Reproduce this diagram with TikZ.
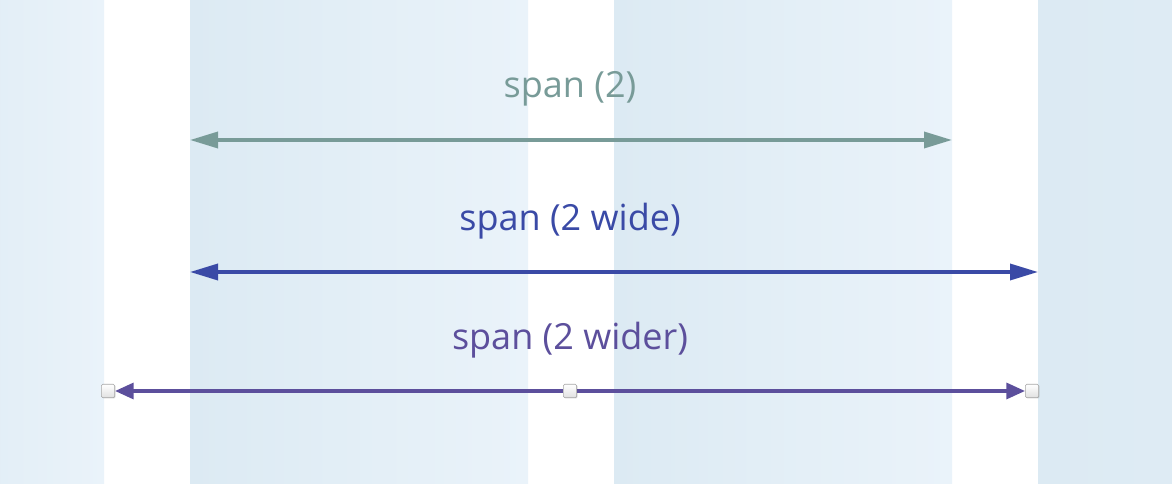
\documentclass[tikz,border=0pt]{standalone}
\usepackage{fontspec}
\setmainfont{Open Sans}
\usetikzlibrary{arrows.meta,shadows}
\definecolor{colDark}{HTML}{DCEAF3}
\definecolor{colLight}{HTML}{EAF3FA}
\definecolor{spanGray}{HTML}{789B98}
\definecolor{spanBlue}{HTML}{3A4AA6}
\definecolor{spanPurple}{HTML}{5C4F9C}
\tikzset{
  spanline/.style={line width=2.5pt, -{Triangle[length=14pt 0, width=12pt 0]}},
  spanboth/.style={line width=2.6pt, {Triangle[length=21pt 0, width=12pt 0]}-{Triangle[length=21pt 0, width=12pt 0]}},
  spanlabel/.style={font=\fontsize{27}{32}\selectfont, inner sep=0pt},
  handle/.style={draw=black!35, line width=0.5pt, top color=white, bottom color=black!12,
    minimum size=10pt, inner sep=0pt, rounded corners=1pt,
    drop shadow={opacity=0.35, shadow xshift=0.6pt, shadow yshift=-0.6pt}}
}
\begin{document}
\begin{tikzpicture}[x=0.75pt,y=-0.75pt]
    \useasboundingbox (0,0) rectangle (1172,484);
    % columns
    \shade[left color=colDark!50!colLight, right color=colLight] (0,0) rectangle (104,484);
    \shade[left color=colDark, right color=colLight] (190,0) rectangle (528,484);
    \shade[left color=colDark, right color=colLight] (614,0) rectangle (952,484);
    \shade[left color=colDark, right color=colDark!85!colLight] (1038,0) rectangle (1172,484);
    % span (2)
    \node[spanlabel, text=spanGray] (lblNarrow) at (570,89) {span (2)};
    \coordinate (narrowL) at (190,140);
    \coordinate (narrowR) at (952,140);
    \draw[spanboth, spanGray] (narrowL) -- (narrowR);
    % span (2 wide)
    \node[spanlabel, text=spanBlue] (lblWide) at (570,221) {span (2 wide)};
    \coordinate (wideL) at (190,272);
    \coordinate (wideR) at (1038,272);
    \draw[spanboth, spanBlue] (wideL) -- (wideR);
    % span (2 wider)
    \node[spanlabel, text=spanPurple] (lblWider) at (570,340) {span (2 wider)};
    \node[handle] (handleL) at (108,391) {};
    \node[handle] (handleM) at (570,391) {};
    \node[handle] (handleR) at (1032,391) {};
    \draw[spanline, spanPurple] (handleM) -- (handleL);
    \draw[spanline, spanPurple] (handleM) -- (handleR);
\end{tikzpicture}
\end{document}
